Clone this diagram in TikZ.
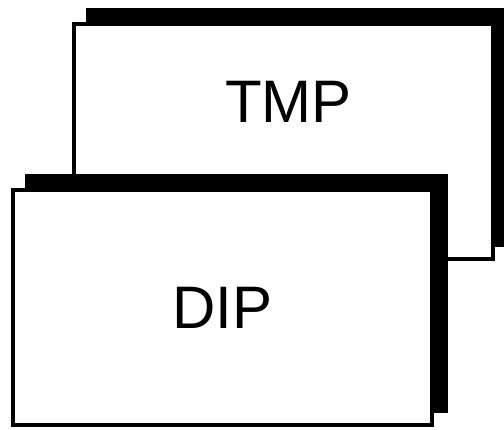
\documentclass[tikz,border=0pt]{standalone}
\usepackage{fontspec}
\setmainfont{Liberation Sans}
\usetikzlibrary{shadows}
\begin{document}
\begin{tikzpicture}[x=1pt, y=1pt,
	card/.style={draw, line width=3.6pt, fill=white, inner sep=0pt,
		minimum width=419.4pt, minimum height=235.4pt,
		drop shadow={shadow xshift=14pt, shadow yshift=14pt, opacity=1, fill=black, draw=black}},
	word/.style={font=\fontsize{60}{72}\selectfont}]
 \useasboundingbox (0,0) rectangle (504,-429);
 \node[card, label={[word, xshift=5pt, yshift=39.5pt]center:TMP}] (tmp) at (283.5,-141.5) {};
 \node[card, word] (dip) at (222.5,-307.5) {DIP};
\end{tikzpicture}
\end{document}
